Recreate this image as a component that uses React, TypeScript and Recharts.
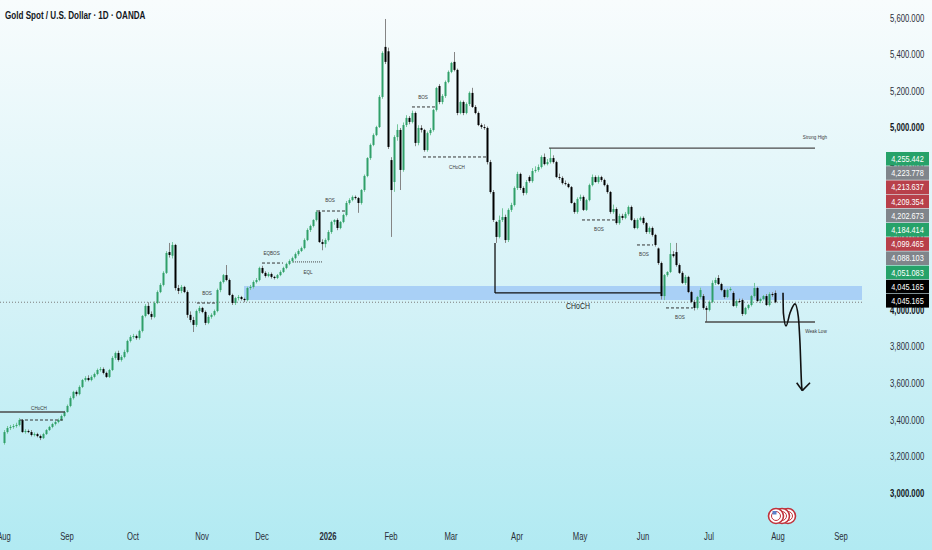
import React from 'react';
import {
  ComposedChart,
  Bar,
  Line,
  XAxis,
  YAxis,
  ReferenceLine,
  ReferenceArea,
  ReferenceDot,
} from 'recharts';

// [open, high, low, close] per trading day, index 0 = 1 Aug 2025
const ohlc: [number, number, number, number][] = [
  [3274,3345,3265,3334],[3334,3367,3325,3356],[3356,3373,3345,3362],[3362,3378,3352,3367],[3367,3385,3358,3373],
  [3373,3410,3365,3400],[3400,3405,3330,3334],[3334,3350,3325,3340],[3340,3348,3328,3334],[3334,3345,3310,3318],
  [3318,3332,3310,3323],[3323,3330,3305,3312],[3312,3320,3290,3301],[3301,3330,3296,3323],[3323,3350,3318,3345],
  [3345,3368,3340,3362],[3362,3385,3355,3378],[3378,3395,3370,3389],[3389,3408,3382,3400],[3400,3430,3395,3422],
  [3422,3450,3415,3444],[3444,3485,3440,3477],[3477,3530,3470,3520],[3520,3560,3512,3554],[3554,3562,3530,3542],
  [3542,3590,3535,3581],[3581,3625,3575,3619],[3619,3640,3610,3630],[3630,3645,3612,3619],[3619,3645,3612,3636],
  [3636,3660,3628,3652],[3652,3682,3645,3674],[3674,3690,3665,3679],[3679,3688,3650,3658],[3658,3665,3630,3636],
  [3636,3680,3630,3674],[3674,3750,3668,3740],[3740,3775,3730,3767],[3767,3780,3720,3729],[3729,3755,3720,3745],
  [3745,3785,3738,3773],[3773,3840,3765,3833],[3833,3865,3825,3855],[3855,3872,3845,3860],[3860,3868,3840,3849],
  [3849,3895,3840,3888],[3888,3975,3880,3970],[3970,4035,3962,4025],[4025,4045,3975,3981],[3981,3995,3950,3965],
  [3965,4050,3958,4041],[4041,4110,4035,4101],[4101,4150,4095,4140],[4140,4215,4132,4206],[4206,4325,4200,4315],
  [4320,4370,4290,4304],[4300,4375,4285,4359],[4359,4365,4110,4123],[4123,4140,4090,4107],[4107,4140,4095,4129],
  [4129,4135,4095,4101],[4101,4110,3960,3976],[3976,3995,3935,3948],[3948,3965,3882,3921],[3921,4005,3910,3997],
  [3997,4025,3985,4014],[4014,4020,3985,3992],[3992,4000,3920,3932],[3932,3975,3925,3965],[3965,3985,3955,3976],
  [3976,4005,3968,3997],[3997,4120,3990,4112],[4112,4162,4100,4156],[4156,4200,4148,4194],[4194,4249,4160,4167],
  [4167,4175,4080,4085],[4085,4092,4030,4041],[4041,4075,4030,4068],[4068,4085,4055,4074],[4074,4080,4055,4063],
  [4063,4070,4045,4057],[4057,4130,4050,4123],[4123,4140,4112,4129],[4129,4165,4120,4156],[4156,4178,4148,4167],
  [4167,4240,4160,4233],[4233,4245,4200,4206],[4206,4215,4180,4189],[4189,4210,4182,4200],[4200,4208,4175,4184],
  [4184,4190,4170,4178],[4178,4200,4172,4194],[4194,4220,4188,4211],[4211,4240,4205,4233],[4233,4262,4226,4255],
  [4255,4280,4248,4271],[4271,4295,4262,4287],[4287,4318,4280,4309],[4309,4335,4300,4326],[4326,4350,4320,4342],
  [4342,4395,4335,4386],[4386,4450,4380,4441],[4441,4470,4430,4463],[4463,4500,4455,4496],[4496,4550,4488,4540],
  [4540,4548,4370,4375],[4375,4390,4330,4364],[4364,4395,4345,4386],[4386,4440,4378,4430],[4430,4492,4420,4485],
  [4485,4500,4470,4496],[4496,4505,4440,4452],[4452,4490,4445,4485],[4485,4530,4478,4523],[4523,4600,4515,4589],
  [4589,4615,4580,4605],[4605,4630,4598,4622],[4622,4630,4608,4616],[4616,4622,4535,4589],[4589,4665,4580,4660],
  [4660,4745,4650,4737],[4737,4840,4730,4835],[4835,4915,4825,4907],[4907,4970,4900,4961],[4961,5012,4955,5005],
  [5005,5180,5000,5170],[5170,5420,5160,5411],[5444,5597,5350,5362],[5420,5440,4885,4896],[4824,4840,4403,4660],
  [4704,4960,4650,4950],[4950,5020,4930,4989],[4989,5000,4660,4770],[4770,5030,4760,5016],[5016,5070,5005,5055],
  [5055,5065,5020,5033],[5033,5095,5025,5082],[5082,5090,4900,4918],[4918,5015,4905,5000],[5000,5015,4975,4989],
  [4989,4995,4870,4879],[4879,4980,4870,4972],[4972,5000,4960,4989],[4989,5105,4980,5099],[5099,5225,5090,5219],
  [5230,5240,5130,5142],[5142,5185,5130,5175],[5175,5260,5165,5252],[5252,5315,5245,5307],[5307,5362,5300,5356],
  [5362,5416,5310,5318],[5318,5325,5070,5082],[5082,5150,5075,5142],[5142,5150,5070,5082],[5082,5140,5075,5131],
  [5131,5200,5120,5192],[5192,5220,5110,5115],[5115,5125,5075,5082],[5082,5090,5010,5016],[5016,5025,4995,5005],
  [5005,5020,4990,5000],[5000,5008,4800,4813],[4813,4825,4640,4649],[4649,4660,4485,4496],[4485,4490,4370,4403],
  [4403,4520,4395,4496],[4496,4560,4485,4512],[4512,4525,4370,4386],[4386,4560,4375,4551],[4551,4590,4540,4578],
  [4578,4680,4570,4671],[4671,4760,4660,4748],[4748,4755,4660,4671],[4671,4680,4630,4644],[4644,4715,4635,4704],
  [4731,4740,4700,4709],[4709,4780,4700,4764],[4764,4790,4755,4770],[4770,4800,4760,4786],[4786,4850,4778,4841],
  [4841,4860,4795,4802],[4802,4830,4795,4813],[4813,4890,4805,4835],[4835,4850,4805,4813],[4813,4820,4725,4731],
  [4731,4750,4715,4726],[4726,4735,4690,4698],[4698,4712,4685,4693],[4693,4700,4670,4676],[4676,4682,4585,4589],
  [4589,4595,4530,4540],[4540,4620,4530,4611],[4611,4635,4600,4622],[4622,4630,4545,4551],[4551,4612,4545,4605],
  [4605,4695,4598,4687],[4687,4745,4680,4731],[4731,4740,4700,4704],[4704,4740,4695,4731],[4731,4738,4705,4715],
  [4715,4722,4680,4687],[4687,4695,4640,4649],[4649,4655,4530,4540],[4540,4580,4530,4556],[4556,4565,4470,4479],
  [4479,4530,4470,4518],[4518,4530,4495,4507],[4507,4540,4500,4529],[4529,4575,4520,4567],[4567,4575,4490,4496],
  [4496,4505,4445,4452],[4452,4505,4445,4496],[4496,4515,4488,4507],[4507,4515,4470,4479],[4479,4485,4420,4430],
  [4430,4460,4420,4452],[4452,4460,4405,4414],[4414,4420,4350,4359],[4340,4345,4250,4260],[4260,4268,4060,4079],
  [4079,4200,4057,4194],[4194,4215,4185,4211],[4211,4370,4205,4309],[4309,4325,4290,4298],[4320,4370,4240,4249],
  [4249,4258,4200,4206],[4206,4215,4145,4151],[4151,4195,4140,4184],[4184,4190,4095,4101],[4101,4108,4040,4047],
  [4047,4058,4000,4014],[4014,4080,4005,4074],[4074,4125,4065,4112],[4079,4090,4005,4014],[4014,4025,3937,4003],
  [4003,4055,3995,4047],[4047,4165,4040,4151],[4151,4180,4140,4167],[4178,4194,4140,4145],[4145,4152,4105,4112],
  [4112,4118,4065,4074],[4074,4120,4068,4112],[4112,4128,4105,4118],[4096,4105,4020,4025],[4025,4060,4015,4052],
  [4052,4065,4040,4047],[4057,4065,3970,3981],[3981,4020,3975,4014],[4014,4035,4005,4030],[4030,4085,4022,4079],
  [4079,4151,4070,4123],[4123,4130,4045,4052],[4052,4070,4040,4063],[4063,4085,4055,4079],[4079,4090,4025,4030],
  [4030,4100,4022,4090],[4090,4100,4075,4085],[4096,4110,4040,4045.165],
];

const monthTicks = [0, 21, 43, 66, 86, 108, 129, 149, 171, 192, 213, 235, 258, 279];
const monthLabels = ['Aug', 'Sep', 'Oct', 'Nov', 'Dec', '2026', 'Feb', 'Mar', 'Apr', 'May', 'Jun', 'Jul', 'Aug', 'Sep'];
const priceTicks = [3000, 3200, 3400, 3600, 3800, 4000, 4200, 4400, 4600, 4800, 5000, 5200, 5400, 5600];
const lastPrice = 4045.165;

const tagValues = ['4,255.442', '4,223.778', '4,213.637', '4,209.354', '4,202.673', '4,184.414', '4,099.465', '4,088.103', '4,051.083', '4,045.165', '4,045.165'];
const tagKinds = ['up', 'flat', 'down', 'down', 'flat', 'up', 'down', 'flat', 'up', 'last', 'last'];

// supply/demand zone (index range, price range)
const zone = { x1: 80, x2: 286, y1: 4057, y2: 4134 };

// solid structure lines [x1, y1, x2, y2] in (day index, price)
const solidLines: [number, number, number, number][] = [
  [-1.33, 3444, 20.33, 3444],
  [163.67, 4370, 163.67, 4096],
  [163.67, 4096, 219.33, 4096],
  [181.67, 4890, 270.33, 4890],
  [233.67, 3937, 270.33, 3937],
];
const dashedLines: [number, number, number, number][] = [
  [5.33, 3400, 19.67, 3400],
  [64.33, 4041, 71, 4041],
  [86, 4260, 93, 4260],
  [104.33, 4545, 113.67, 4545],
  [136, 5115, 143.67, 5115],
  [139.67, 4841, 161, 4841],
  [192.67, 4496, 203.67, 4496],
  [211, 4359, 216.33, 4359],
  [220.67, 4014, 229.67, 4014],
];
const dottedLines: [number, number, number, number][] = [[96.33, 4266, 106.33, 4266]];

const smallLabels: [string, number, number][] = [
  ['CHoCH', 11.67, 3466],
  ['BOS', 67.67, 4096],
  ['EQ', 87.6, 4315],
  ['BOS', 90.3, 4315],
  ['EQL', 101.33, 4211],
  ['BOS', 108.67, 4605],
  ['BOS', 139.67, 5170],
  ['CHoCH', 151, 4786],
  ['BOS', 198.33, 4447],
  ['BOS', 213.33, 4309],
  ['BOS', 225.33, 3965],
  ['Strong High', 270.33, 4950],
  ['Weak Low', 270.67, 3888],
];
const bigLabels: [string, number, number][] = [['CHoCH', 191.33, 4025]];

// projected path drawn on the chart
const projection = [
  { i: 259.67, p: 4097 },
  { i: 259.8, p: 3986 },
  { i: 260.67, p: 3915 },
  { i: 262, p: 3986 },
  { i: 263.67, p: 4036 },
  { i: 264.77, p: 3966 },
  { i: 265.33, p: 3822 },
  { i: 265.9, p: 3583 },
  { i: 266.1, p: 3561 },
];
const arrowHead: [number, number, number, number][] = [
  [264.23, 3604, 266.1, 3561],
  [268.67, 3604, 266.1, 3561],
];

const FONT = "'Liberation Sans', Arial, sans-serif";
const SQUEEZE = 0.77;

const data = ohlc.map(([o, h, l, c], i) => ({ i, o, h, l, c, range: [l, h] }));

const UP_BODY = '#2f9f69';
const UP_WICK = '#74c79b';
const DOWN_BODY = '#000000';
const DOWN_WICK = '#858585';

const Candle = (props: any) => {
  const { x, y, width, height, payload } = props;
  if (x == null || y == null || !payload) return null;
  const { o, h, l, c } = payload;
  const top = Math.min(y, y + height);
  const hgt = Math.abs(height);
  const span = h - l;
  const py = (v: number) => (span === 0 ? top : top + ((h - v) / span) * hgt);
  const cx = Math.round(x + width / 2);
  const up = c >= o;
  const bTop = py(Math.max(o, c));
  const bBot = py(Math.min(o, c));
  return (
    <g>
      <line x1={cx + 0.5} x2={cx + 0.5} y1={top} y2={top + hgt} stroke={up ? UP_WICK : DOWN_WICK} strokeWidth={1} />
      <rect x={cx - 0.5} y={bTop} width={2} height={Math.max(1, bBot - bTop)} fill={up ? UP_BODY : DOWN_BODY} />
    </g>
  );
};

// narrow text: horizontally squeezed around its anchor point
const NText = ({ x, y, anchor = 'middle', size, color, weight = 400, baseline, children }: any) => (
  <text
    transform={`translate(${x},${y}) scale(${SQUEEZE},1)`}
    x={0}
    y={0}
    textAnchor={anchor}
    dominantBaseline={baseline}
    fontSize={size}
    fontFamily={FONT}
    fill={color}
    fontWeight={weight}
  >
    {children}
  </text>
);

const XTick = (props: any) => {
  const { x, payload } = props;
  const idx = monthTicks.indexOf(payload.value);
  const label = idx >= 0 ? monthLabels[idx] : '';
  return (
    <NText x={x} y={540} size={10} color="#2a2e39" weight={label === '2026' ? 700 : 400}>
      {label}
    </NText>
  );
};

const YTick = (props: any) => {
  const { y, payload } = props;
  const v = payload.value as number;
  const bold = v === 5000 || v === 3000 || v === 4000;
  const txt = v.toLocaleString('en-US', { minimumFractionDigits: 3, maximumFractionDigits: 3 });
  return (
    <NText x={890} y={y + 3.5} anchor="start" size={10} color={bold ? '#131722' : '#2a2e39'} weight={bold ? 700 : 400}>
      {txt}
    </NText>
  );
};

const textShape = (label: string, size: number, color: string) => (p: any) => (
  <NText x={p.cx} y={p.cy} size={size} color={color} baseline="central">
    {label}
  </NText>
);

const tagColor = (k: string) => (k === 'up' ? '#26a269' : k === 'down' ? '#b8404a' : k === 'flat' ? '#80858b' : '#000000');

export default function App() {
  return (
    <div
      style={{
        position: 'absolute',
        left: 0,
        top: 0,
        width: 932,
        height: 550,
        overflow: 'hidden',
        background: 'linear-gradient(180deg, #f8fcfd 0%, #d4f2f7 55%, #b1eaf2 100%)',
      }}
    >
      <ComposedChart width={932} height={550} data={data} margin={{ top: 0, right: 0, bottom: 0, left: 0 }}>
        <XAxis
          dataKey="i"
          type="number"
          domain={[-1.333, 286]}
          allowDataOverflow
          ticks={monthTicks}
          tick={<XTick />}
          tickLine={false}
          axisLine={false}
          height={40}
          interval={0}
        />
        <YAxis
          orientation="right"
          type="number"
          domain={[2907, 5701]}
          allowDataOverflow
          ticks={priceTicks}
          tick={<YTick />}
          tickLine={false}
          axisLine={false}
          width={70}
          interval={0}
        />
        <ReferenceArea x1={zone.x1} x2={zone.x2} y1={zone.y1} y2={zone.y2} fill="#a6cdf6" fillOpacity={0.95} stroke="none" ifOverflow="visible" />
        <ReferenceLine y={lastPrice} stroke="#7c7c7c" strokeDasharray="1 2" strokeWidth={1} />
        <Bar dataKey="range" barSize={2} shape={<Candle />} isAnimationActive={false} />
        {solidLines.map(([x1, y1, x2, y2], k) => (
          <ReferenceLine
            key={`s${k}`}
            segment={[{ x: x1, y: y1 }, { x: x2, y: y2 }]}
            stroke={k === 1 || k === 2 ? '#111111' : '#4a4a4a'}
            strokeWidth={1.3}
            ifOverflow="visible"
          />
        ))}
        {dashedLines.map(([x1, y1, x2, y2], k) => (
          <ReferenceLine key={`d${k}`} segment={[{ x: x1, y: y1 }, { x: x2, y: y2 }]} stroke="#333333" strokeWidth={1} strokeDasharray="3 2" ifOverflow="visible" />
        ))}
        {dottedLines.map(([x1, y1, x2, y2], k) => (
          <ReferenceLine key={`o${k}`} segment={[{ x: x1, y: y1 }, { x: x2, y: y2 }]} stroke="#444444" strokeWidth={1} strokeDasharray="1 1" ifOverflow="visible" />
        ))}
        {smallLabels.map(([t, x, y], k) => (
          <ReferenceDot key={`l${k}`} x={x} y={y} r={0} ifOverflow="visible" shape={textShape(t, 6, '#3a3a3a')} />
        ))}
        {bigLabels.map(([t, x, y], k) => (
          <ReferenceDot key={`b${k}`} x={x} y={y} r={0} ifOverflow="visible" shape={textShape(t, 9, '#222222')} />
        ))}
        <Line data={projection} dataKey="p" type="monotone" stroke="#111111" strokeWidth={1.6} dot={false} activeDot={false} isAnimationActive={false} />
        {arrowHead.map(([x1, y1, x2, y2], k) => (
          <ReferenceLine key={`a${k}`} segment={[{ x: x1, y: y1 }, { x: x2, y: y2 }]} stroke="#111111" strokeWidth={1.6} ifOverflow="visible" />
        ))}
      </ComposedChart>

      <svg style={{ position: 'absolute', left: 0, top: 0 }} width={932} height={550}>
        <NText x={5} y={18.5} anchor="start" size={10.5} color="#131722" weight={700}>
          Gold Spot / U.S. Dollar · 1D · OANDA
        </NText>
        {tagValues.map((t, k) => (
          <g key={`t${k}`}>
            <rect x={886} y={152 + k * 14.2} width={43} height={13.6} fill={tagColor(tagKinds[k])} />
            <NText x={907.5} y={152 + k * 14.2 + 10} size={9.5} color="#ffffff">
              {t}
            </NText>
          </g>
        ))}
        <g transform="translate(764,502)">
          {[24, 18, 12].map((cx, k) => (
            <g key={k}>
              <circle cx={cx} cy={14} r={7.5} fill="#ffffff" stroke="#c0333c" strokeWidth={1.6} />
              <circle cx={cx} cy={14} r={4.5} fill="none" stroke="#c0333c" strokeWidth={1} />
            </g>
          ))}
          <rect x={8.5} y={9} width={4} height={3.5} fill="#5a7fc8" />
        </g>
      </svg>
    </div>
  );
}
